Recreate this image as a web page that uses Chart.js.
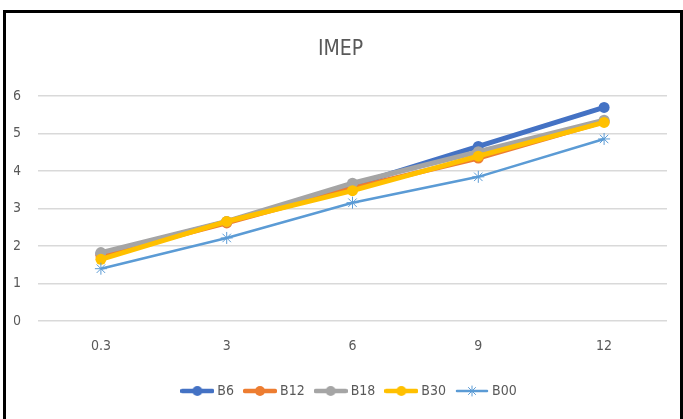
<!DOCTYPE html>
<html>
<head>
<meta charset="utf-8">
<script src="https://cdn.jsdelivr.net/npm/chart.js@4"></script>
<style>
  html, body { margin: 0; padding: 0; background: #fff; overflow: hidden; width: 683px; height: 419px; }
  #frame { position: absolute; left: 3px; top: 10px; width: 674px; height: 430px; border: 3px solid #000; box-sizing: content-box; }
  #wrap { position: absolute; left: 0; top: 0; width: 674px; height: 400px; }
</style>
</head>
<body>
<div id="frame"><div id="wrap"><canvas id="c"></canvas></div></div>
<script>
// Load points (x) and IMEP per blend
const categories = ['0.3', '3', '6', '9', '12'];
const b6  = [1.80, 2.65, 3.62, 4.66, 5.70];
const b12 = [1.75, 2.62, 3.55, 4.35, 5.32];
const b18 = [1.83, 2.66, 3.68, 4.52, 5.36];
const b30 = [1.65, 2.66, 3.48, 4.40, 5.30];
const b00 = [1.40, 2.22, 3.16, 3.85, 4.86];
const yTicks = [0, 1, 2, 3, 4, 5, 6];

const FONT = "'Liberation Sans Narrow', 'DejaVu Sans Condensed', 'Liberation Sans', sans-serif";
const TEXT = '#595959';

// Legend swatch: short line with the series marker in the middle
function swatch(color, width, marker) {
  const cv = document.createElement('canvas');
  cv.width = 34; cv.height = 12;
  const g = cv.getContext('2d');
  g.strokeStyle = color; g.lineWidth = width; g.lineCap = 'round';
  g.beginPath(); g.moveTo(2, 6); g.lineTo(32, 6); g.stroke();
  if (marker === 'circle') {
    g.fillStyle = color;
    g.beginPath(); g.arc(17, 6, 5, 0, Math.PI * 2); g.fill();
  } else {
    g.lineWidth = 1;
    g.beginPath();
    for (let i = 0; i < 4; i++) {
      const a = i * Math.PI / 4;
      g.moveTo(17 - 5 * Math.cos(a), 6 - 5 * Math.sin(a));
      g.lineTo(17 + 5 * Math.cos(a), 6 + 5 * Math.sin(a));
    }
    g.stroke();
  }
  return cv;
}

function series(label, data, color, order) {
  return {
    label, data, order,
    borderColor: color, backgroundColor: color,
    borderWidth: 5, pointRadius: 5.5, pointHoverRadius: 5.5,
    pointBackgroundColor: color, pointBorderColor: color, pointBorderWidth: 0,
    tension: 0, legendStyle: swatch(color, 4.5, 'circle')
  };
}

const datasets = [
  series('B6', b6, '#4472C4', 5),
  series('B12', b12, '#ED7D31', 4),
  series('B18', b18, '#A5A5A5', 3),
  series('B30', b30, '#FFC000', 2),
  {
    label: 'B00', data: b00, order: 1,
    borderColor: '#5B9BD5', backgroundColor: '#5B9BD5',
    borderWidth: 2.5, pointStyle: 'star', pointRadius: 6, pointHoverRadius: 6,
    pointBorderColor: '#5B9BD5', pointBorderWidth: 1, tension: 0,
    legendStyle: swatch('#5B9BD5', 2.5, 'star')
  }
];

// Nudge the legend row a little to the right of the plot's centre
const legendShift = {
  id: 'legendShift',
  afterLayout(chart) {
    if (chart.legend) { chart.legend.left += 10; chart.legend.right += 10; }
  }
};

new Chart(document.getElementById('c'), {
  type: 'line',
  data: { labels: categories, datasets },
  plugins: [legendShift],
  options: {
    responsive: true, maintainAspectRatio: false, animation: false,
    layout: { padding: { left: 8, right: 13, top: 10, bottom: 5 } },
    plugins: {
      title: {
        display: true, text: 'IMEP', color: TEXT,
        font: { family: FONT, size: 21, weight: 'normal' },
        padding: { top: 14, bottom: 34 }
      },
      legend: {
        position: 'bottom',
        labels: {
          color: TEXT, font: { family: FONT, size: 14 },
          usePointStyle: true, pointStyleWidth: 26, boxHeight: 12, padding: 13,
          generateLabels: (chart) => chart.data.datasets.map((d, i) => ({
            text: d.label, pointStyle: d.legendStyle, fontColor: TEXT,
            datasetIndex: i, hidden: false, lineWidth: 0
          }))
        }
      },
      tooltip: { enabled: false }
    },
    scales: {
      x: {
        offset: true,
        grid: { display: false },
        border: { display: false },
        ticks: { color: TEXT, font: { family: FONT, size: 14 }, padding: 9 },
        afterFit: (s) => { s.height += 7; }
      },
      y: {
        min: 0, max: 6,
        afterBuildTicks: (s) => { s.ticks = yTicks.map(v => ({ value: v })); },
        grid: { color: '#D9D9D9', lineWidth: 1.5, drawTicks: false },
        border: { display: false },
        ticks: { color: TEXT, font: { family: FONT, size: 14 }, padding: 17 },
        afterFit: (s) => { s.width = 24; }
      }
    }
  }
});
</script>
</body>
</html>
